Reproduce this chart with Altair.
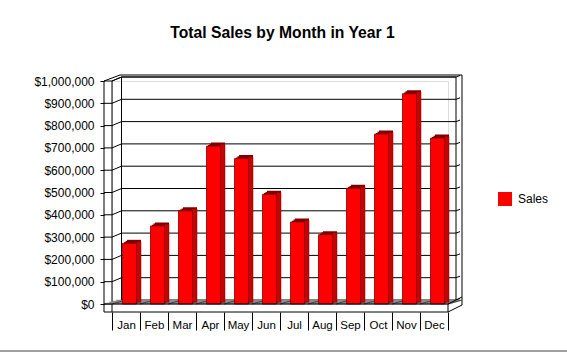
import altair as alt
import pandas as pd

months = ["Jan", "Feb", "Mar", "Apr", "May", "Jun", "Jul", "Aug", "Sep", "Oct", "Nov", "Dec"]
sales = [272000, 350000, 418000, 708000, 652000, 492000, 368000, 311000, 519000, 762000, 943000, 744000]
tick_values = [0, 100000, 200000, 300000, 400000, 500000, 600000, 700000, 800000, 900000, 1000000]
series_name = "Sales"
title_text = "Total Sales by Month in Year 1"

df = pd.DataFrame({"month": months, "sales": sales, "series": [series_name] * len(months)})
ticks_df = pd.DataFrame({"v": tick_values})
one = pd.DataFrame({"k": [0]})

W, H = 336, 223
FONT = "Liberation Sans"

xscale = alt.Scale(domain=months, paddingInner=0, paddingOuter=0)
yscale = alt.Scale(domain=[0, 1000000], nice=False, zero=True)

x_axis = alt.Axis(title=None, orient="bottom", offset=8, domain=False, tickBand="extent",
                  tickSize=18, tickColor="black", tickWidth=1, labelFontSize=11.5, labelFont=FONT,
                  labelColor="black", labelAngle=0, labelBaseline="alphabetic", labelPadding=-2,
                  grid=False)
y_axis = alt.Axis(title=None, values=tick_values, format="$,.0f", offset=8, tickSize=4,
                  tickColor="black", tickWidth=1, domain=False, grid=False, labelFontSize=12,
                  labelFont=FONT, labelColor="black", labelPadding=6)

X = alt.X("month:N", sort=months, scale=xscale, axis=x_axis)
Y = alt.Y("sales:Q", scale=yscale, axis=y_axis)
YV = alt.Y("v:Q", scale=yscale, axis=y_axis)


def zero_y():
    return alt.datum(0, scale=yscale, axis=y_axis)


def seg(x1, y1, x2, y2, color="black", width=1):
    return alt.Chart(one).mark_rule(color=color, strokeWidth=width).encode(
        x=alt.value(x1), y=alt.value(y1), x2=alt.value(x2), y2=alt.value(y2))


layers = []

# back wall gridlines (through y scale)
BX, BY = 9.5, -4
layers.append(alt.Chart(ticks_df).mark_rule(color="black", strokeWidth=1, yOffset=BY, y2Offset=BY).encode(
    y=YV, y2="v:Q", x=alt.value(BX), x2=alt.value(344)))
# connectors from front axis to back wall
layers.append(alt.Chart(ticks_df).mark_rule(color="black", strokeWidth=1).encode(
    y=YV, y2="v:Q", x=alt.value(-8), x2=alt.value(0)))
layers.append(alt.Chart(ticks_df).mark_rule(color="black", strokeWidth=1, y2Offset=BY).encode(
    y=YV, y2="v:Q", x=alt.value(0), x2=alt.value(BX)))
layers.append(alt.Chart(ticks_df).mark_rule(color="black", strokeWidth=1, yOffset=BY, y2Offset=BY - 1.5).encode(
    y=YV, y2="v:Q", x=alt.value(344), x2=alt.value(348)))

# frame
layers += [
    seg(-8, 0, -8, 231), seg(0, 0, 0, 231),
    seg(BX, -4, BX, 219), seg(344, -4, 344, 219), seg(350, -6, 350, 224),
    seg(8, -6, 350, -6), seg(BX, -4, 344, -4),
    seg(-8, 0, 8, -6), seg(0, 0, BX, -4),
]

# floor (gray platform)
for k in range(4):
    sh = 3.5 * (k + 0.5)
    layers.append(alt.Chart(one).mark_rule(color="#8c8c8c", strokeWidth=1.3,
                                           yOffset=-(k + 0.5), y2Offset=-(k + 0.5)).encode(
        y=zero_y(), y2=alt.datum(0), x=alt.value(-8 + sh), x2=alt.value(336 + sh)))
# floor category lines
layers.append(alt.Chart(df).mark_rule(color="#404040", strokeWidth=1, xOffset=-14, x2Offset=0, y2Offset=-4).encode(
    x=X, x2=alt.X2("month:N"), y=zero_y(), y2=alt.datum(0)))
layers.append(seg(336, 223, 350, 219, color="#404040"))

# bars: extrusion, side, front
base = alt.Chart(df).encode(x=X, y=Y)
for k in (1, 2, 3):
    layers.append(base.mark_bar(size=14, xOffset=3.5 + 1.5 * k, yOffset=-1.17 * k, y2Offset=-1.17 * k,
                                color="#800000"))
layers.append(base.mark_bar(size=4.5, xOffset=12.75, yOffset=-1.75, y2Offset=-1.75, color="#cc0000",
                            stroke="#800000", strokeWidth=0.5))
layers.append(base.mark_bar(size=14, xOffset=3.5, stroke="#800000", strokeWidth=0.8).encode(
    color=alt.Color("series:N", scale=alt.Scale(domain=[series_name], range=["#ff0000"]),
                    legend=alt.Legend(title=None, orient="none", legendX=386, legendY=111,
                                      symbolType="square", symbolSize=196, symbolStrokeWidth=0,
                                      labelFontSize=12, labelFont=FONT, labelColor="black",
                                      labelOffset=6, padding=0))))

# front slab of floor
layers.append(alt.Chart(one).mark_rule(color="black", strokeWidth=1).encode(
    y=zero_y(), y2=alt.datum(0), x=alt.value(-8), x2=alt.value(336)))
layers += [
    seg(-8, 231, 336, 231), seg(336, 223, 336, 231),
    seg(336, 223, 350, 216), seg(336, 231, 350, 224),
]
# bottom window line
layers.append(seg(-112, 270, 455, 270, color="#a0a0a0", width=2))

chart = alt.layer(*layers).properties(
    width=W, height=H,
    autosize=alt.AutoSizeParams(type="none"),
    padding={"left": 112, "top": 81, "right": 119, "bottom": 49},
    title=alt.TitleParams(title_text, font=FONT, fontSize=15.7, fontWeight="bold", color="black",
                          anchor="middle", frame="group", offset=33, dx=2.5),
).configure_view(stroke=None).configure(background="white")

chart.save("out.html", embed_options={"renderer": "svg", "actions": False})
